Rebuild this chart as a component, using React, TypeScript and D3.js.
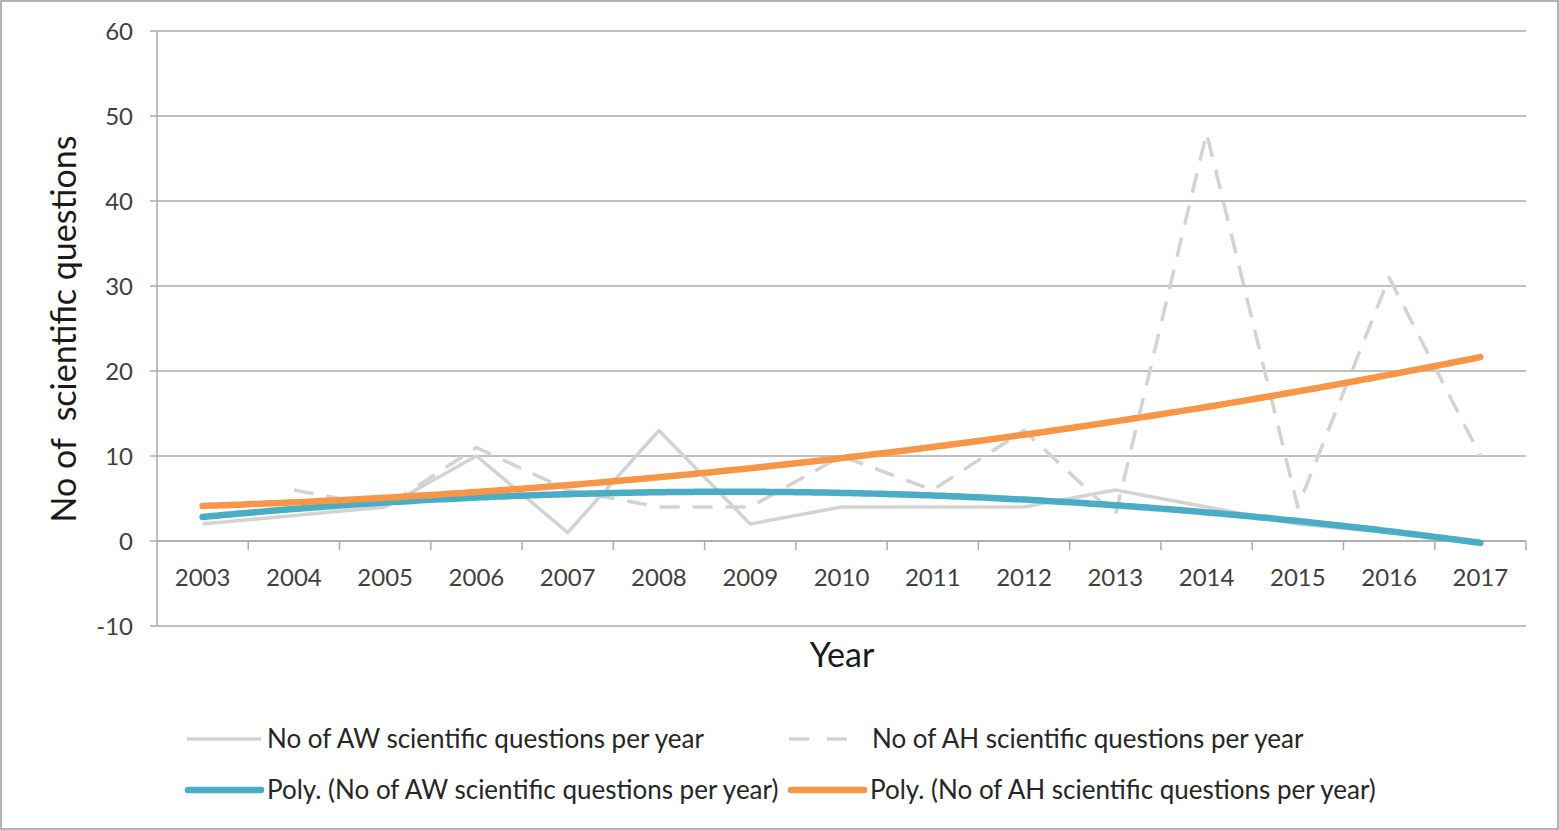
import React from 'react';
import * as d3 from 'd3';

const years = ['2003','2004','2005','2006','2007','2008','2009','2010','2011','2012','2013','2014','2015','2016','2017'];
const awValues: (number | null)[] = [2,3,4,10,1,13,2,4,4,4,6,4,2,1,0];
const ahValues: (number | null)[] = [null,6,4,11,6,4,4,10,6,13,3,48,4,31,10];
const yTicks = [-10,0,10,20,30,40,50,60];

const legendRow1 = ['No of AW scientific questions per year', 'No of AH scientific questions per year'];
const legendRow2 = ['Poly. (No of AW scientific questions per year)', 'Poly. (No of AH scientific questions per year)'];

const W = 1559, H = 830;
const M = { left: 157, right: 1526, top: 31, bottom: 626 };
const FONT = 'Lato, "Open Sans", sans-serif';

const C_GRAY = '#d3d3d3';
const C_BLUE = '#4BACC6';
const C_ORANGE = '#F79646';
const C_GRID = '#ababab';

// least-squares polynomial fit (order 2), x = 1..n as Excel does for line charts
function polyFit(vals: (number | null)[], order: number) {
  const pts = vals.map((v, i) => [i + 1, v] as [number, number | null]).filter(p => p[1] != null) as [number, number][];
  const m = order + 1;
  const A: number[][] = Array.from({ length: m }, () => new Array(m + 1).fill(0));
  for (const [x, y] of pts) {
    for (let r = 0; r < m; r++) {
      for (let c = 0; c < m; c++) A[r][c] += Math.pow(x, r + c);
      A[r][m] += y * Math.pow(x, r);
    }
  }
  for (let i = 0; i < m; i++) {
    let p = i;
    for (let k = i + 1; k < m; k++) if (Math.abs(A[k][i]) > Math.abs(A[p][i])) p = k;
    [A[i], A[p]] = [A[p], A[i]];
    for (let k = i + 1; k < m; k++) {
      const f = A[k][i] / A[i][i];
      for (let c = i; c <= m; c++) A[k][c] -= f * A[i][c];
    }
  }
  const coef = new Array(m).fill(0);
  for (let i = m - 1; i >= 0; i--) {
    let s = A[i][m];
    for (let c = i + 1; c < m; c++) s -= A[i][c] * coef[c];
    coef[i] = s / A[i][i];
  }
  return (x: number) => coef.reduce((acc, c, i) => acc + c * Math.pow(x, i), 0);
}

export default function App() {
  const xBand = d3.scaleBand<string>().domain(years).range([M.left, M.right]).padding(0);
  const step = xBand.step();
  const xc = (i: number) => M.left + step * (i + 0.5);
  const xIdx = d3.scaleLinear().domain([0, years.length - 1]).range([xc(0), xc(years.length - 1)]);
  const y = d3.scaleLinear().domain([-10, 60]).range([M.bottom, M.top]);

  const seriesLine = d3.line<number | null>()
    .defined(d => d != null)
    .x((_, i) => xIdx(i))
    .y(d => y(d as number));

  const fitAW = polyFit(awValues, 2);
  const fitAH = polyFit(ahValues, 2);
  const samples = d3.range(0, years.length - 1 + 1e-9, 0.05);
  const trendLine = (f: (x: number) => number) =>
    d3.line<number>().x(t => xIdx(t)).y(t => y(f(t + 1)))(samples) || '';

  const y0 = y(0);

  return (
    <svg width={W} height={H} style={{ position: 'absolute', left: 0, top: 0, background: '#fff' }} fontFamily={FONT}>
      <rect x={1} y={1} width={W - 2} height={H - 2} fill="#fff" stroke="#9a9a9a" strokeWidth={1.5} />

      {/* gridlines + y ticks */}
      {yTicks.map(t => (
        <line key={'g' + t} x1={M.left - 7} x2={M.right} y1={y(t)} y2={y(t)} stroke={C_GRID} strokeWidth={1.5} />
      ))}
      {/* y axis */}
      <line x1={M.left} x2={M.left} y1={M.top} y2={M.bottom} stroke={C_GRID} strokeWidth={1.5} />
      {/* x axis at zero with tick marks */}
      <line x1={M.left} x2={M.right} y1={y0} y2={y0} stroke={C_GRID} strokeWidth={1.5} />
      {years.map((yr) => (
        <line key={'xt' + yr} x1={(xBand(yr) as number) + step} x2={(xBand(yr) as number) + step} y1={y0} y2={y0 + 9} stroke={C_GRID} strokeWidth={1.5} />
      ))}

      {/* y tick labels */}
      {yTicks.map(t => (
        <text key={'yl' + t} x={133} y={y(t)} dy="0.36em" textAnchor="end" fontSize={24} fill="#404040">{t}</text>
      ))}
      {/* x tick labels */}
      {years.map((yr, i) => (
        <text key={'xl' + yr} x={xc(i)} y={586} textAnchor="middle" fontSize={24} fill="#404040">{yr}</text>
      ))}

      {/* axis titles */}
      <text x={842} y={667} textAnchor="middle" fontSize={34} fill="#1a1a1a">Year</text>
      <text transform={`translate(76,${329}) rotate(-90)`} textAnchor="middle" fontSize={34} fill="#1a1a1a" style={{ whiteSpace: 'pre' }}>{'No of  scientific questions'}</text>

      {/* data series */}
      <path d={seriesLine(awValues) || ''} fill="none" stroke={C_GRAY} strokeWidth={3.5} strokeLinejoin="round" />
      <path d={seriesLine(ahValues) || ''} fill="none" stroke={C_GRAY} strokeWidth={3.5} strokeDasharray="20 13" strokeLinejoin="round" />
      <path d={trendLine(fitAW)} fill="none" stroke={C_BLUE} strokeWidth={6.5} strokeLinecap="round" strokeLinejoin="round" />
      <path d={trendLine(fitAH)} fill="none" stroke={C_ORANGE} strokeWidth={6.5} strokeLinecap="round" strokeLinejoin="round" />

      {/* legend */}
      <g fontSize={26} fill="#262626">
        <line x1={187} x2={261} y1={739} y2={739} stroke={C_GRAY} strokeWidth={3.5} />
        <text x={267} y={739} dy="0.36em">{legendRow1[0]}</text>
        <line x1={789} x2={849} y1={739} y2={739} stroke={C_GRAY} strokeWidth={3.5} strokeDasharray="20 18" />
        <text x={872} y={739} dy="0.36em">{legendRow1[1]}</text>

        <line x1={188} x2={261} y1={790} y2={790} stroke={C_BLUE} strokeWidth={6.5} strokeLinecap="round" />
        <text x={267} y={790} dy="0.36em">{legendRow2[0]}</text>
        <line x1={791} x2={864} y1={790} y2={790} stroke={C_ORANGE} strokeWidth={6.5} strokeLinecap="round" />
        <text x={870} y={790} dy="0.36em">{legendRow2[1]}</text>
      </g>
    </svg>
  );
}
